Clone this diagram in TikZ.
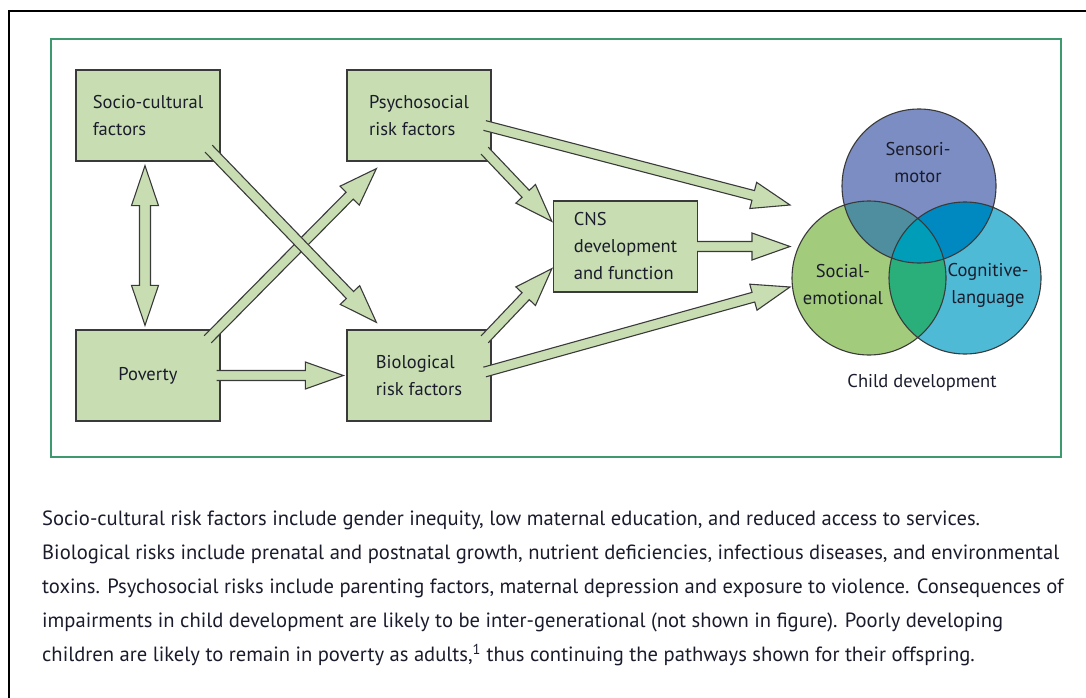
\documentclass[tikz,border=0pt]{standalone}
\usepackage{fontspec}
\setmainfont{PT Sans}
\usetikzlibrary{calc}

\definecolor{boxgreen}{HTML}{C8DEB2}
\definecolor{edge}{HTML}{3A3A3A}
\definecolor{ink}{HTML}{1A1C2C}
\definecolor{frame}{HTML}{3C9A6E}
\definecolor{smblue}{HTML}{7B8DC2}
\definecolor{segreen}{HTML}{A3CB7C}
\definecolor{clcyan}{HTML}{4FBAD6}
\definecolor{smse}{HTML}{4E8E9E}
\definecolor{smcl}{HTML}{0089C0}
\definecolor{secl}{HTML}{2AAE7A}
\definecolor{allc}{HTML}{009DB8}

\begin{document}
\begin{tikzpicture}[x=1pt, y=-1pt, font=\fontsize{18.5}{27}\selectfont, text=ink,
    box/.style={draw=edge, fill=boxgreen, line width=1.3pt, minimum width=144pt,
      minimum height=91pt, align=left, inner sep=0pt},
    fatarrow/.style={draw=edge, fill=boxgreen, line width=1.1pt},
    ring/.style={draw=edge, line width=1.1pt}]
  \useasboundingbox (0,0) rectangle (1086,698);
  \draw[line width=1.8pt] (9,698) -- (9,11) -- (1086,11);
  \draw[frame, line width=1.4pt] (51,39) rectangle (1061,457);

  \node[box] (soc) at (148,115.5) {Socio-cultural\\factors};
  \node[box] (psy) at (419,115.5) {Psychosocial\\risk factors};
  \node[box] (pov) at (148,375.5) {Poverty};
  \node[box] (bio) at (419,375.5) {Biological\\risk factors};
  \node[box] (cns) at (625.5,246.5) {CNS\\development\\and function};

  \coordinate (sm) at (919,186);
  \coordinate (se) at (869,278);
  \coordinate (cl) at (965,278);

  \coordinate (dtop) at ([shift={(-3,4)}]soc.south);
  \coordinate (dbot) at ([shift={(-3,-4)}]pov.north);
  \coordinate (s1) at ([shift={(-12,-13)}]soc.south east);
  \coordinate (t1) at ([shift={(30,-7)}]bio.north west);
  \coordinate (s2) at ([shift={(-13,10)}]pov.north east);
  \coordinate (t2) at ([shift={(30,7)}]psy.south west);
  \coordinate (s3) at ([shift={(-4,0)}]pov.east);
  \coordinate (t3) at ([shift={(-3,0)}]bio.west);
  \coordinate (s4) at ([shift={(-7,-11)}]psy.south east);
  \coordinate (t4) at ([shift={(-1,21)}]cns.north west);
  \coordinate (s5) at ([shift={(-7,10)}]bio.north east);
  \coordinate (t5) at ([shift={(-1,-24)}]cns.south west);
  \coordinate (s6) at ([shift={(-7,10)}]psy.east);
  \coordinate (t6) at ([shift={(-79,-73)}]se);
  \coordinate (s7) at ([shift={(-1,0)}]cns.east);
  \coordinate (t7) at ([shift={(-79,-31.5)}]se);
  \coordinate (s8) at ([shift={(-7,-3.5)}]bio.east);
  \coordinate (t8) at ([shift={(-79,9)}]se);

  \filldraw[fatarrow] let \p1=($(dtop)!40pt!(dbot)$), \p2=($(dbot)!40pt!(dtop)$) in
    (dtop) -- ($(\p1)!13.5pt!90:(dbot)$) -- ($(\p1)!5.5pt!90:(dbot)$)
    -- ($(\p2)!5.5pt!-90:(dtop)$) -- ($(\p2)!13.5pt!-90:(dtop)$) -- (dbot)
    -- ($(\p2)!13.5pt!90:(dtop)$) -- ($(\p2)!5.5pt!90:(dtop)$)
    -- ($(\p1)!5.5pt!-90:(dbot)$) -- ($(\p1)!13.5pt!-90:(dbot)$) -- cycle;

  \foreach \a/\b in {s2/t2, s1/t1, s3/t3, s4/t4, s5/t5, s6/t6, s7/t7, s8/t8} {
    \filldraw[fatarrow] let \p1=($(\b)!38pt!(\a)$) in
      ($(\a)!5pt!90:(\b)$) -- ($(\p1)!5pt!90:(\b)$) -- ($(\p1)!13.5pt!90:(\b)$)
      -- (\b) -- ($(\p1)!13.5pt!-90:(\b)$) -- ($(\p1)!5pt!-90:(\b)$)
      -- ($(\a)!5pt!-90:(\b)$);
  }

  \fill[smblue] (sm) circle (77pt);
  \fill[segreen] (se) circle (77pt);
  \fill[clcyan] (cl) circle (76pt);
  \begin{scope}
    \clip (se) circle (77pt);
    \fill[secl] (cl) circle (76pt);
  \end{scope}
  \begin{scope}
    \clip (sm) circle (77pt);
    \fill[smse] (se) circle (77pt);
    \fill[smcl] (cl) circle (76pt);
    \clip (se) circle (77pt);
    \fill[allc] (cl) circle (76pt);
  \end{scope}
  \draw[ring] (sm) circle (77pt) (se) circle (77pt) (cl) circle (76pt);

  \node[align=center] (smlab) at (918,163) {Sensori-\\motor};
  \node[align=center] (selab) at (843,285) {Social-\\emotional};
  \node[align=center] (cllab) at (988,285) {Cognitive-\\language};
  \node (child) at (922,383) {Child development};

  \node[anchor=north west, align=left, inner sep=0pt,
    font=\fontsize{20.6}{34}\selectfont] (cap) at (42,511)
    {Socio-cultural risk factors include gender inequity, low maternal education, and reduced access to services.\\
     Biological risks include prenatal and postnatal growth, nutrient deficiencies, infectious diseases, and environmental\\
     toxins. Psychosocial risks include parenting factors, maternal depression and exposure to violence. Consequences of\\
     impairments in child development are likely to be inter-generational (not shown in figure). Poorly developing\\
     children are likely to remain in poverty as adults,\textsuperscript{1} thus continuing the pathways shown for their offspring.};
\end{tikzpicture}
\end{document}
